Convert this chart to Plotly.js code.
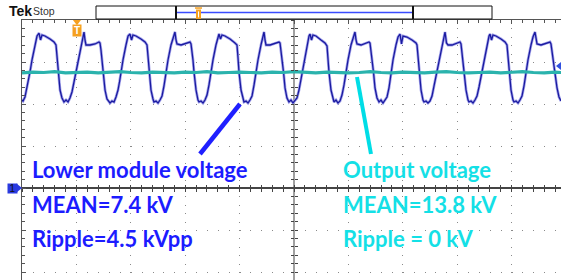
<!DOCTYPE html>
<html>
<head>
<meta charset="utf-8">
<script src="https://cdn.plot.ly/plotly-3.0.1.min.js"></script>
<style>
  html, body { margin: 0; padding: 0; background: #fff; }
  #chart { width: 561px; height: 280px; }
</style>
</head>
<body>
<div id="chart"></div>
<script>
// Channel 1 (lower module voltage): time and amplitude in scope divisions (centre = 0)
const ch1Time = [
  -5.000,-4.982,-4.945,-4.908,-4.853,
  -4.816,-4.761,-4.724,-4.687,-4.660,-4.632,-4.577,-4.485,-4.412,-4.375,-4.357,-4.338,-4.301,-4.265,-4.246,-4.228,-4.191,-4.154,-4.118,-4.081,-4.044,-4.007,
  -3.971,-3.915,-3.879,-3.860,-3.842,-3.824,-3.750,-3.658,-3.585,-3.566,-3.548,-3.529,-3.511,-3.474,-3.438,-3.401,-3.382,-3.346,-3.309,-3.272,-3.235,-3.208,-3.180,
  -3.143,-3.088,-3.051,-3.015,-2.987,-2.960,-2.904,-2.813,-2.739,-2.702,-2.684,-2.665,-2.629,-2.592,-2.574,-2.537,-2.500,-2.463,-2.426,-2.390,-2.353,
  -2.316,-2.261,-2.224,-2.188,-2.169,-2.151,-2.077,-1.985,-1.912,-1.893,-1.875,-1.857,-1.838,-1.801,-1.765,-1.746,-1.710,-1.673,-1.636,-1.599,-1.563,-1.526,
  -1.489,-1.434,-1.397,-1.379,-1.351,-1.324,-1.268,-1.176,-1.085,-1.048,-1.029,-1.011,-0.974,-0.938,-0.919,-0.882,-0.846,-0.809,-0.772,-0.735,-0.699,
  -0.662,-0.607,-0.570,-0.551,-0.533,-0.515,-0.441,-0.349,-0.276,-0.257,-0.239,-0.221,-0.193,-0.165,-0.129,-0.092,-0.055,-0.018,0.018,0.055,0.092,0.119,0.147,
  0.184,0.239,0.276,0.294,0.322,0.349,0.404,0.496,0.570,0.607,0.625,0.643,0.680,0.717,0.735,0.772,0.809,0.846,0.882,0.919,0.956,
  0.993,1.048,1.085,1.121,1.140,1.158,1.232,1.324,1.379,1.397,1.415,1.434,1.461,1.489,1.526,1.563,1.599,1.636,1.673,1.710,1.746,1.783,
  1.820,1.875,1.912,1.949,1.976,2.004,2.077,2.169,2.243,2.261,2.279,2.298,2.335,2.371,2.390,2.426,2.463,2.500,2.537,2.574,2.629,
  2.665,2.721,2.757,2.776,2.803,2.831,2.904,2.996,3.051,3.070,3.088,3.107,3.125,3.162,3.199,3.217,3.254,3.290,3.327,3.364,3.401,3.456,
  3.493,3.548,3.585,3.603,3.631,3.658,3.713,3.805,3.879,3.915,3.934,3.952,3.989,4.026,4.044,4.081,4.118,4.154,4.191,4.228,4.265,
  4.301,4.357,4.393,4.430,4.449,4.467,4.540,4.632,4.706,4.724,4.743,4.761,4.798,4.835,4.871,4.908
];
const ch1Level = [
  2.095,2.071,2.167,2.381,2.762,
  3.048,3.405,3.619,3.690,3.524,3.643,3.619,3.548,3.476,3.405,3.095,2.762,2.333,2.143,2.071,2.048,2.095,2.048,2.143,2.286,2.524,2.762,
  3.048,3.405,3.595,3.714,3.524,3.405,3.405,3.429,3.476,3.452,3.286,3.048,2.762,2.333,2.119,2.071,2.024,2.071,2.048,2.167,2.333,2.524,2.762,
  3.048,3.405,3.619,3.667,3.524,3.643,3.619,3.548,3.476,3.405,3.095,2.762,2.333,2.119,2.048,2.071,2.024,2.095,2.190,2.429,2.762,
  3.048,3.405,3.595,3.714,3.524,3.429,3.405,3.452,3.476,3.429,3.286,3.048,2.762,2.333,2.095,2.048,2.071,2.024,2.095,2.214,2.452,2.762,
  3.048,3.405,3.619,3.667,3.548,3.643,3.619,3.548,3.452,3.405,3.095,2.762,2.333,2.095,2.048,2.071,2.024,2.095,2.190,2.452,2.762,
  3.048,3.405,3.595,3.714,3.524,3.405,3.405,3.452,3.476,3.452,3.286,3.048,2.762,2.381,2.143,2.048,2.095,2.024,2.071,2.143,2.333,2.524,2.762,
  3.048,3.405,3.619,3.667,3.524,3.643,3.619,3.524,3.452,3.381,3.048,2.762,2.333,2.119,2.048,2.095,2.024,2.071,2.214,2.452,2.762,
  3.048,3.405,3.595,3.714,3.524,3.429,3.405,3.452,3.476,3.452,3.286,3.048,2.762,2.381,2.143,2.048,2.095,2.024,2.095,2.167,2.381,2.762,
  3.048,3.405,3.595,3.667,3.429,3.619,3.595,3.524,3.452,3.405,3.095,2.762,2.333,2.095,2.048,2.071,2.024,2.071,2.190,2.429,2.762,
  3.048,3.405,3.595,3.714,3.452,3.405,3.405,3.452,3.476,3.429,3.238,3.000,2.762,2.333,2.095,2.048,2.071,2.024,2.095,2.190,2.405,2.762,
  3.048,3.405,3.619,3.667,3.524,3.643,3.619,3.548,3.476,3.405,3.095,2.762,2.333,2.095,2.048,2.071,2.024,2.095,2.190,2.429,2.762,
  3.048,3.405,3.595,3.714,3.524,3.429,3.405,3.452,3.476,3.429,3.238,3.048,2.762,2.381,2.167,2.071
];

// Channel 2 (output voltage), in scope divisions
const ch2Time = [-5.0,-4.8,-4.6,-4.4,-4.2,-4.0,-3.8,-3.6,-3.4,-3.2,-3.0,-2.8,-2.6,-2.4,-2.2,-2.0,-1.8,-1.6,-1.4,-1.2,-1.0,-0.8,-0.6,-0.4,-0.2,0.0,0.2,0.4,0.6,0.8,1.0,1.2,1.4,1.6,1.8,2.0,2.2,2.4,2.6,2.8,3.0,3.2,3.4,3.6,3.8,4.0,4.2,4.4,4.6,4.8,4.91];
const ch2Level = [2.74,2.76,2.75,2.77,2.74,2.75,2.76,2.74,2.75,2.77,2.75,2.74,2.76,2.75,2.74,2.76,2.75,2.77,2.74,2.75,2.76,2.75,2.74,2.76,2.75,2.77,2.75,2.74,2.76,2.75,2.74,2.75,2.77,2.75,2.74,2.76,2.75,2.74,2.76,2.77,2.75,2.74,2.75,2.76,2.74,2.75,2.77,2.75,2.74,2.76,2.75];

// Text labels
const leftLabels = ['Lower module voltage', 'MEAN=7.4 kV', 'Ripple=4.5 kVpp'];
const rightLabels = ['Output voltage', 'MEAN=13.8 kV', 'Ripple = 0 kV'];
const headerLabels = ['Tek', 'Stop'];

const X_RANGE = [-5, 4.908];
const Y_RANGE = [-2.19, 4];
const BLUE_TXT = '#1c1cff';
const CYAN_TXT = '#14e0e6';

const traces = [
  {x: ch1Time, y: ch1Level, type: 'scatter', mode: 'lines', line: {color: '#a4a4ea', width: 2.8}, hoverinfo: 'skip'},
  {x: ch1Time, y: ch1Level, type: 'scatter', mode: 'lines', line: {color: '#1a1aa0', width: 1.3}, hoverinfo: 'skip'},
  {x: ch2Time, y: ch2Level, type: 'scatter', mode: 'lines', line: {color: '#2bb3ad', width: 3.2}, hoverinfo: 'skip'},
  {x: [], y: [], xaxis: 'x2', yaxis: 'y', type: 'scatter', hoverinfo: 'skip'},
  {x: [], y: [], xaxis: 'x3', yaxis: 'y', type: 'scatter', hoverinfo: 'skip'},
  {x: [], y: [], xaxis: 'x', yaxis: 'y2', type: 'scatter', hoverinfo: 'skip'},
  {x: [], y: [], xaxis: 'x', yaxis: 'y3', type: 'scatter', hoverinfo: 'skip'}
];

const centerTicks = (extra) => Object.assign({
  showgrid: false, zeroline: false, showline: false, showticklabels: false,
  tickmode: 'linear', tick0: 0, dtick: 0.2, ticklen: 3, tickcolor: '#444', tickwidth: 1,
  fixedrange: true
}, extra);

const annotations = [];
const rowY = [0.4269, 0.2923, 0.1615];
leftLabels.forEach((t, i) => annotations.push({
  xref: 'paper', yref: 'paper', x: 0.0148, y: rowY[i], xanchor: 'left', yanchor: 'middle',
  text: t, showarrow: false, font: {family: 'Lato', size: 22, color: BLUE_TXT, weight: 700}
}));
rightLabels.forEach((t, i) => annotations.push({
  xref: 'paper', yref: 'paper', x: 0.5918, y: rowY[i], xanchor: 'left', yanchor: 'middle',
  text: t, showarrow: false, font: {family: 'Lato', size: 22, color: CYAN_TXT, weight: 700}
}));
annotations.push({xref: 'paper', yref: 'paper', x: -0.027, y: 1.035, xanchor: 'left', yanchor: 'middle',
  text: '<b>' + headerLabels[0] + '</b>', showarrow: false, font: {family: 'Liberation Sans', size: 14, color: '#111'}});
annotations.push({xref: 'paper', yref: 'paper', x: 0.0167, y: 1.033, xanchor: 'left', yanchor: 'middle',
  text: headerLabels[1], showarrow: false, font: {family: 'Liberation Sans', size: 10.5, color: '#333'}});
// trigger marker
annotations.push({xref: 'x', yref: 'paper', x: -3.99, y: 0.9577, xanchor: 'center', yanchor: 'middle',
  text: '<b>T</b>', showarrow: false, width: 8, height: 11, bgcolor: '#f5a020', borderpad: 0,
  font: {family: 'Liberation Sans', size: 10, color: '#fff'}});
// channel 1 ground marker
annotations.push({xref: 'paper', yref: 'y', x: -0.0185, y: 0, xanchor: 'center', yanchor: 'middle',
  text: '1', showarrow: false, width: 9, height: 9, bgcolor: '#2a3ae0', borderpad: 0,
  font: {family: 'Liberation Sans', size: 10, color: '#111'}});

const shapes = [
  // record-length box
  {type: 'rect', xref: 'paper', yref: 'paper', x0: 0.1373, x1: 0.8720, y0: 1.0038, y1: 1.0538, line: {color: '#111', width: 1}, fillcolor: '#fff'},
  {type: 'line', xref: 'paper', yref: 'paper', x0: 0.2857, x1: 0.7254, y0: 1.0288, y1: 1.0288, line: {color: '#3a4cff', width: 1.5}},
  {type: 'line', xref: 'paper', yref: 'paper', x0: 0.2857, x1: 0.2857, y0: 1.0038, y1: 1.0538, line: {color: '#111', width: 2}},
  {type: 'line', xref: 'paper', yref: 'paper', x0: 0.7254, x1: 0.7254, y0: 1.0038, y1: 1.0538, line: {color: '#111', width: 2}},
  {type: 'rect', xref: 'paper', yref: 'paper', x0: 0.3228, x1: 0.3321, y0: 1.0038, y1: 1.0404, line: {width: 0}, fillcolor: '#f5a020'},
  {type: 'line', xref: 'paper', yref: 'paper', x0: 0.3210, x1: 0.3340, y0: 1.046, y1: 1.046, line: {color: '#f5a020', width: 1.5}},
  {type: 'line', xref: 'paper', yref: 'paper', x0: 0.3275, x1: 0.3275, y0: 1.010, y1: 1.033, line: {color: '#fff', width: 1}},
  // trigger triangle
  {type: 'path', xref: 'x', yref: 'paper', path: 'M -4.064 1 L -3.916 1 L -3.99 0.9800 Z', line: {width: 0}, fillcolor: '#f5a020'},
  // ground marker tip
  {type: 'path', xref: 'paper', yref: 'y', path: 'M -0.0102 0.107 L 0 0 L -0.0102 -0.107 Z', line: {width: 0}, fillcolor: '#2a3ae0'},
  // right reference marker
  {type: 'path', xref: 'paper', yref: 'y', path: 'M 0.9907 2.905 L 1.0 3.0 L 1.0 2.81 Z', line: {width: 0}, fillcolor: '#3050e0'},
  // pointer lines
  {type: 'line', xref: 'x', yref: 'y', x0: -1.728, y0: 0.810, x1: -0.993, y1: 2.0, line: {color: '#1f1fff', width: 4.5}},
  {type: 'line', xref: 'x', yref: 'y', x0: 1.158, y0: 2.643, x1: 1.415, y1: 0.810, line: {color: '#00dde6', width: 4}}
];

const layout = {
  width: 561, height: 280,
  margin: {l: 22, r: 0, t: 20, b: 0, pad: 0},
  paper_bgcolor: '#fff', plot_bgcolor: '#fff',
  showlegend: false,
  xaxis: {
    range: X_RANGE, side: 'top', showline: true, linecolor: '#555', linewidth: 1,
    ticks: 'inside', tickmode: 'linear', tick0: 0, dtick: 1, ticklen: 4, tickcolor: '#555',
    showticklabels: false, showgrid: true, gridcolor: '#8a8a8a', gridwidth: 1, griddash: '1px,7.4px',
    zeroline: true, zerolinecolor: '#a0a0a0', zerolinewidth: 2.5,
    minor: {tickmode: 'linear', tick0: 0, dtick: 0.2, ticks: 'inside', ticklen: 3, tickcolor: '#555', showgrid: false},
    fixedrange: true
  },
  yaxis: {
    range: Y_RANGE, side: 'left', showline: true, linecolor: '#555', linewidth: 1,
    ticks: 'inside', tickmode: 'linear', tick0: 0, dtick: 1, ticklen: 4, tickcolor: '#555',
    showticklabels: false, showgrid: true, gridcolor: '#8a8a8a', gridwidth: 1, griddash: '1px,9.88px',
    zeroline: true, zerolinecolor: '#444', zerolinewidth: 1.5,
    minor: {tickmode: 'linear', tick0: 0, dtick: 0.2, ticks: 'inside', ticklen: 3, tickcolor: '#555', showgrid: false},
    fixedrange: true
  },
  xaxis2: centerTicks({overlaying: 'x', anchor: 'free', position: 0.35385, range: X_RANGE, side: 'bottom', ticks: 'outside'}),
  xaxis3: centerTicks({overlaying: 'x', anchor: 'free', position: 0.35385, range: X_RANGE, side: 'bottom', ticks: 'inside'}),
  yaxis2: centerTicks({overlaying: 'y', anchor: 'free', position: 0.50464, range: Y_RANGE, side: 'left', ticks: 'outside'}),
  yaxis3: centerTicks({overlaying: 'y', anchor: 'free', position: 0.50464, range: Y_RANGE, side: 'left', ticks: 'inside'}),
  shapes: shapes,
  annotations: annotations
};

Plotly.newPlot('chart', traces, layout, {staticPlot: true, displayModeBar: false});
</script>
</body>
</html>
